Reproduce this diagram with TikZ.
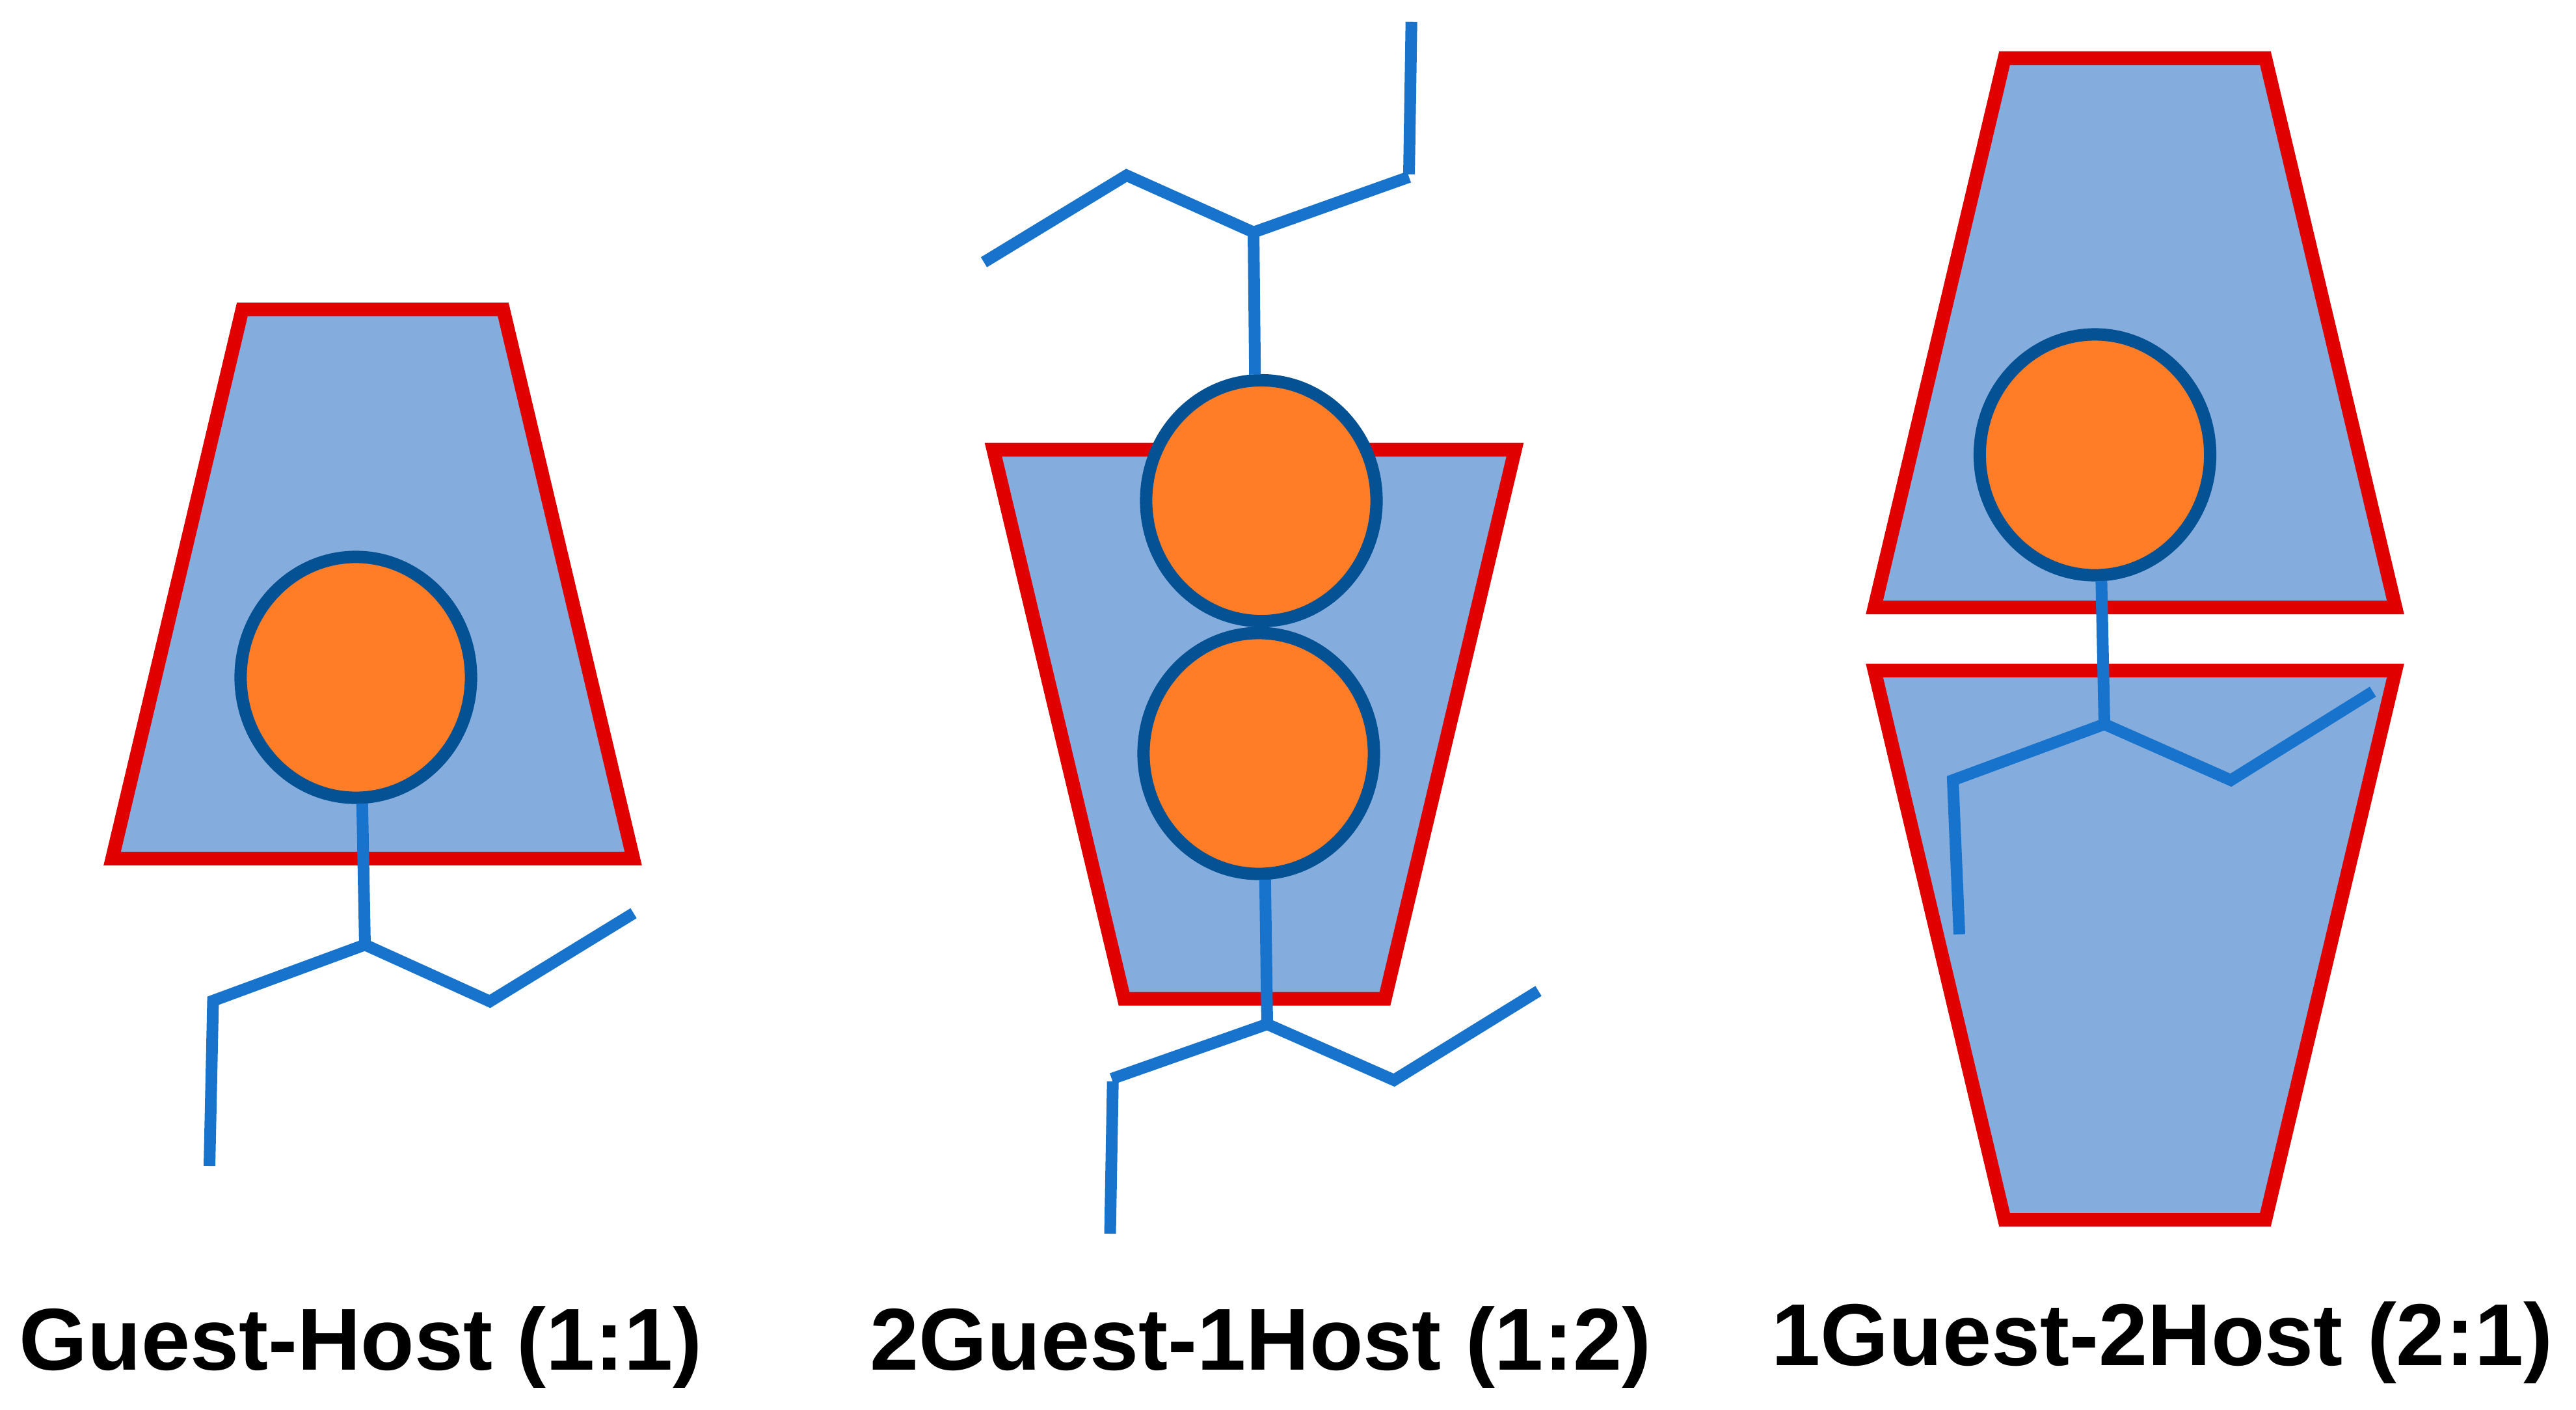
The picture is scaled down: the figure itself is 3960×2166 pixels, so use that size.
\documentclass[tikz,border=0pt]{standalone}
\usepackage{fontspec}
\setmainfont{Liberation Sans}
\usetikzlibrary{shapes.geometric}
\definecolor{hostfill}{HTML}{84ADDE}
\definecolor{hostline}{HTML}{E00000}
\definecolor{guestfill}{HTML}{FF7D26}
\definecolor{guestline}{HTML}{045293}
\definecolor{chainline}{HTML}{1873CC}
\tikzstyle{host} = [draw=hostline, fill=hostfill, line width=0.21cm, line join=miter, miter limit=10]
\tikzstyle{guest} = [draw=guestline, fill=guestfill, line width=0.19cm, ellipse,
    minimum width=3.54cm, minimum height=3.7cm, inner sep=0pt, outer sep=0pt]
\tikzstyle{stem} = [draw=chainline, line width=0.18cm, shorten <=0.09cm]
\tikzstyle{chain} = [draw=chainline, line width=0.18cm, line join=miter]
\tikzstyle{caption} = [font=\fontsize{38.4}{46}\selectfont\bfseries, inner sep=0pt, anchor=base west]

\begin{document}
\begin{tikzpicture}[x=0.01cm, y=-0.01cm]
    \useasboundingbox (0,0) rectangle (3960,2166);

    % guest-host
    \draw[host] (372.5,475.5) -- (773.5,475.5) -- (973.5,1319.5) -- (172.5,1319.5) -- cycle;
    \node[guest] (guest1) at (547,1041) {};
    \coordinate (joint1) at (561,1452);
    \coordinate (knee1) at (327.5,1538);
    \coordinate (foot1) at (322,1792);
    \coordinate (bend1) at (753,1539);
    \coordinate (tip1) at (974,1403.5);
    \draw[stem] (guest1.-87) -- (joint1);
    \draw[chain] (foot1) -- (knee1) -- (joint1) -- (bend1) -- (tip1);
    \node[caption] (label1) at (29,2105) {Guest-Host (1:1)};

    % two guests, one host
    \draw[host] (1527,691) -- (2329,691) -- (2129,1535) -- (1728,1535) -- cycle;
    \node[guest] (guest2a) at (1939,769.5) {};
    \node[guest] (guest2b) at (1935,1158) {};
    \coordinate (joint2a) at (1927,357);
    \coordinate (right2a) at (2166,272);
    \coordinate (knee2a) at (2166,268);
    \coordinate (foot2a) at (2169.7,33.7);
    \coordinate (bend2a) at (1731.8,269.5);
    \coordinate (tip2a) at (1512.5,403);
    \draw[stem] (guest2a.93) -- (joint2a);
    \draw[chain] (right2a) -- (joint2a) -- (bend2a) -- (tip2a);
    \draw[chain] (knee2a) -- (foot2a);
    \coordinate (joint2b) at (1948,1574);
    \coordinate (left2b) at (1709,1658);
    \coordinate (knee2b) at (1710.7,1662);
    \coordinate (foot2b) at (1706.5,1896);
    \coordinate (bend2b) at (2143,1660);
    \coordinate (tip2b) at (2365,1523);
    \draw[stem] (guest2b.-87) -- (joint2b);
    \draw[chain] (left2b) -- (joint2b) -- (bend2b) -- (tip2b);
    \draw[chain] (knee2b) -- (foot2b);
    \node[caption] (label2) at (1337,2105) {2Guest-1Host (1:2)};

    % one guest, two hosts
    \draw[host] (3081.5,89.5) -- (3482.5,89.5) -- (3682.5,933.5) -- (2881.5,933.5) -- cycle;
    \draw[host] (2881.5,1030.5) -- (3682.5,1030.5) -- (3482.5,1874.5) -- (3081.5,1874.5) -- cycle;
    \node[guest] (guest3) at (3220.5,699) {};
    \coordinate (joint3) at (3235,1113);
    \coordinate (knee3) at (3002,1199);
    \coordinate (foot3) at (3012,1436);
    \coordinate (bend3) at (3429.4,1199);
    \coordinate (tip3) at (3647.7,1063);
    \draw[stem] (guest3.-87) -- (joint3);
    \draw[chain] (foot3) -- (knee3) -- (joint3) -- (bend3) -- (tip3);
    \node[caption] (label3) at (2723,2098) {1Guest-2Host (2:1)};
\end{tikzpicture}
\end{document}
